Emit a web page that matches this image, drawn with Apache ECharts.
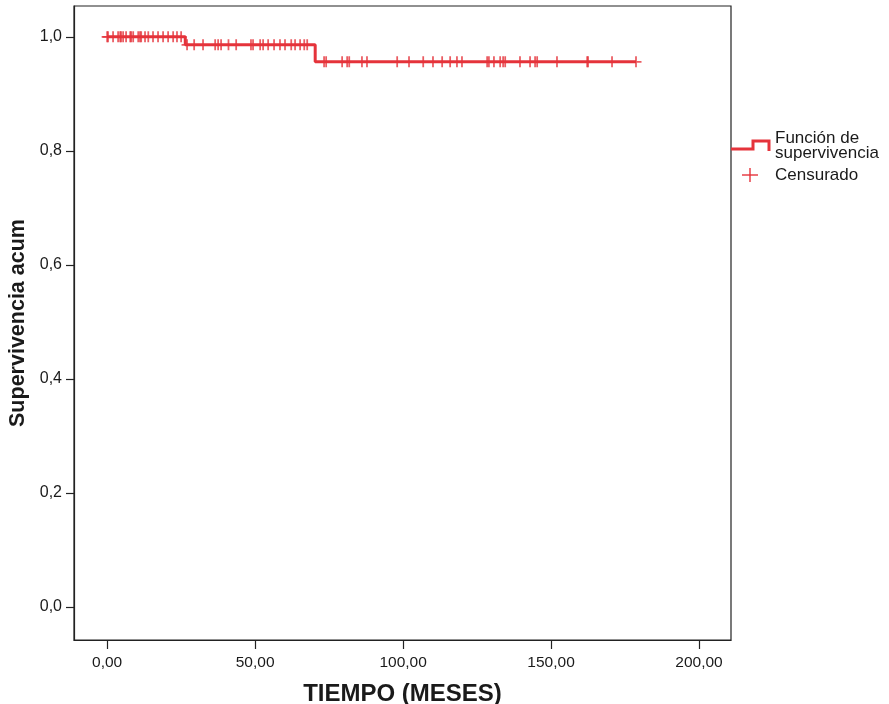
<!DOCTYPE html>
<html>
<head>
<meta charset="utf-8">
<script src="https://cdn.jsdelivr.net/npm/echarts@6/dist/echarts.min.js"></script>
<style>
  html, body { margin: 0; padding: 0; background: #fff; }
  #chart { width: 889px; height: 704px; }
</style>
</head>
<body>
<div id="chart"></div>
<script>
// Kaplan-Meier estimate: times (months) where the survival level changes, and the level after each
const stepTimes = [0, 26.4, 70.3, 178.7];
const stepSurvival = [1.0, 0.986, 0.956, 0.956];

// Censored observations (months)
const censoredTimes = [
  0, 0.3, 2.0, 3.7, 4.4, 4.7, 5.4, 6.4, 7.8, 8.1, 8.8, 10.5, 11.1, 11.5, 12.8, 13.9,
  15.5, 17.2, 18.9, 20.6, 22.3, 23.6, 25.0,
  27.0, 29.4, 32.4, 36.5, 37.5, 38.5, 41.0, 43.6, 48.6, 49.3, 51.7, 52.7, 54.4, 56.4,
  58.4, 60.1, 62.2, 63.5, 65.2, 66.6, 67.6,
  73.3, 74.0, 79.4, 81.1, 81.8, 86.1, 87.8, 98.0, 102.0, 106.8, 110.1, 113.2, 115.9,
  118.2, 119.9, 128.4, 129.0, 130.7, 132.8, 133.8, 134.5, 139.5, 142.9, 144.6, 145.3,
  152.0, 162.2, 162.5, 170.6, 178.7
];

// Axis ticks
const xTicks = [0, 50, 100, 150, 200];
const yTicks = [0, 0.2, 0.4, 0.6, 0.8, 1.0];

const RED = '#e5333b';
const TEXT = '#1a1a1a';
const FONT = '"Liberation Sans", Arial, sans-serif';

// Survival level in effect at time t (right-continuous step function)
function survivalAt(t) {
  let s = stepSurvival[0];
  for (let i = 0; i < stepTimes.length; i++) {
    if (stepTimes[i] <= t) s = stepSurvival[i]; else break;
  }
  return s;
}

const curveData = stepTimes.map((t, i) => [t, stepSurvival[i]]);
const censorData = censoredTimes.map(t => [t, survivalAt(t)]);

const PLUS = 'path://M4.2,0 H5.8 V4.2 H10 V5.8 H5.8 V10 H4.2 V5.8 H0 V4.2 H4.2 Z';

const chart = echarts.init(document.getElementById('chart'), null, { renderer: 'canvas' });

chart.setOption({
  animation: false,
  backgroundColor: '#ffffff',
  grid: {
    left: 74, right: 158, top: 6, bottom: 64,
    outerBoundsMode: 'none',
    containLabel: false,
    show: true, borderColor: '#222', borderWidth: 1.2, backgroundColor: 'transparent'
  },
  xAxis: {
    type: 'value',
    min: -11.2, max: 210.8,
    name: 'TIEMPO (MESES)',
    nameLocation: 'middle',
    nameGap: 42,
    nameTextStyle: { fontFamily: FONT, fontSize: 24, fontWeight: 'bold', color: TEXT },
    axisLine: { show: true, onZero: false, lineStyle: { color: '#222', width: 1.2 } },
    axisTick: { show: true, length: 9, customValues: xTicks, lineStyle: { color: '#222', width: 1.2 } },
    axisLabel: {
      customValues: xTicks,
      margin: 15,
      fontFamily: FONT, fontSize: 15.5, color: TEXT,
      formatter: v => v.toFixed(2).replace('.', ',')
    },
    splitLine: { show: false }
  },
  yAxis: {
    type: 'value',
    min: -0.058, max: 1.054,
    name: 'Supervivencia acum',
    nameLocation: 'middle',
    nameGap: 45,
    nameRotate: 90,
    nameTextStyle: { fontFamily: FONT, fontSize: 21.5, fontWeight: 'bold', color: TEXT },
    axisLine: { show: true, onZero: false, lineStyle: { color: '#222', width: 1.2 } },
    axisTick: { show: true, length: 8, customValues: yTicks, lineStyle: { color: '#222', width: 1.2 } },
    axisLabel: {
      customValues: yTicks,
      margin: 12,
      fontFamily: FONT, fontSize: 16, color: TEXT,
      formatter: v => v.toFixed(1).replace('.', ',')
    },
    splitLine: { show: false }
  },
  series: [
    {
      name: 'Función de supervivencia',
      type: 'line',
      step: 'end',
      data: curveData,
      showSymbol: false,
      lineStyle: { color: RED, width: 3 },
      z: 2
    },
    {
      name: 'Censurado',
      type: 'scatter',
      data: censorData,
      symbol: PLUS,
      symbolSize: 11,
      itemStyle: { color: RED },
      z: 3
    }
  ],
  // Legend block to the right of the plot
  graphic: [
    {
      type: 'polyline',
      shape: { points: [[731, 149], [753, 149], [753, 141], [769, 141], [769, 151]] },
      style: { stroke: RED, lineWidth: 3, fill: null }
    },
    {
      type: 'text', x: 775, y: 130,
      style: { text: 'Función de', font: '17px ' + FONT, fill: TEXT }
    },
    {
      type: 'text', x: 775, y: 145,
      style: { text: 'supervivencia', font: '17px ' + FONT, fill: TEXT }
    },
    {
      type: 'line', shape: { x1: 742, y1: 175, x2: 758, y2: 175 },
      style: { stroke: RED, lineWidth: 1.4 }
    },
    {
      type: 'line', shape: { x1: 750, y1: 168, x2: 750, y2: 182 },
      style: { stroke: RED, lineWidth: 1.4 }
    },
    {
      type: 'text', x: 775, y: 167,
      style: { text: 'Censurado', font: '17px ' + FONT, fill: TEXT }
    }
  ]
});
</script>
</body>
</html>
